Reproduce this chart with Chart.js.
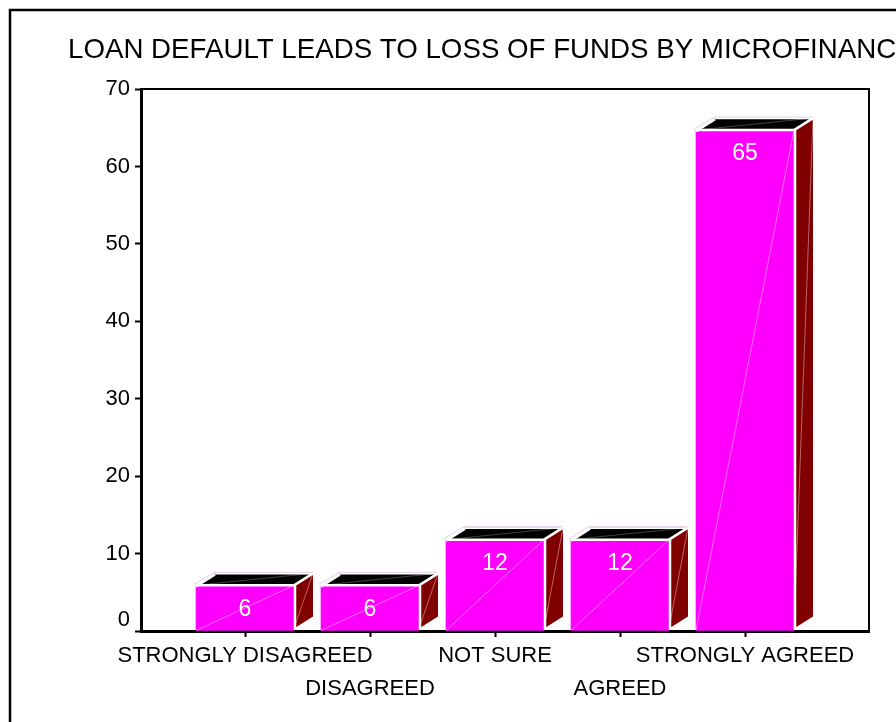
<!DOCTYPE html>
<html><head><meta charset="utf-8">
<script src="https://cdn.jsdelivr.net/npm/chart.js@4"></script>
<style>html,body{margin:0;padding:0;background:#fff;overflow:hidden}canvas{display:block}</style>
</head><body><canvas id="c" width="896" height="722"></canvas>
<script>
const titleText = 'LOAN DEFAULT LEADS TO LOSS OF FUNDS BY MICROFINANCE';
const categories = ['STRONGLY DISAGREED','DISAGREED','NOT SURE','AGREED','STRONGLY AGREED'];
const categoryPositions = [1,2,3,4,5];
const values = [5.9,5.9,11.8,11.8,64.7];
const yTicks = [0,10,20,30,40,50,60,70];

const FONT = '"Liberation Sans", Arial, sans-serif';
const DX = 19, DY = -12;

function poly(ctx, pts, fill){
  ctx.beginPath();
  pts.forEach((p,i)=> i ? ctx.lineTo(p[0],p[1]) : ctx.moveTo(p[0],p[1]));
  ctx.closePath();
  ctx.fillStyle=fill;ctx.fill();
}
function hair(ctx,a,b,c,w){
  ctx.beginPath();ctx.moveTo(a[0],a[1]);ctx.lineTo(b[0],b[1]);
  ctx.strokeStyle=c;ctx.lineWidth=w||1;ctx.stroke();
}

const frame = {
  id:'frame',
  afterLayout(chart){ chart.titleBlock.right = chart.titleBlock.left + 3000; },
  beforeDraw(chart){
    const ctx=chart.ctx;
    ctx.save();
    ctx.strokeStyle='#000';ctx.lineWidth=2.5;
    ctx.beginPath();ctx.moveTo(10,chart.height+5);ctx.lineTo(10,10);ctx.lineTo(chart.width+5,10);ctx.stroke();
    const a=chart.chartArea;
    ctx.lineWidth=2;
    ctx.beginPath();ctx.moveTo(a.left,a.top);ctx.lineTo(a.right,a.top);ctx.lineTo(a.right,a.bottom);ctx.stroke();
    ctx.restore();
  }
};
const bars3d = {
  id:'bars3d',
  afterDatasetsDraw(chart){
    const ctx=chart.ctx, meta=chart.getDatasetMeta(0);
    ctx.save();
    meta.data.forEach((bar,i)=>{
      const hw=bar.width/2, l=bar.x-hw, r=bar.x+hw, t=bar.y, b=bar.base;
      poly(ctx,[[r,t],[r+DX,t+DY],[r+DX,b+DY-2],[r,b-2]],'#800000');
      hair(ctx,[r,b-2],[r+DX,t+DY],'rgba(255,220,220,0.45)',1);
      poly(ctx,[[l,t],[l+DX,t+DY],[r+DX,t+DY],[r,t]],'#000');
      hair(ctx,[l,t],[r+DX,t+DY],'rgba(255,255,255,0.25)',1);
      hair(ctx,[r,t],[r+DX,t+DY],'#fff',2.5);
      hair(ctx,[l,t+1],[l+DX,t+DY+1],'#fff',2.5);
      hair(ctx,[l+DX,t+DY+0.5],[r+DX,t+DY+0.5],'#fff',1.5);
      hair(ctx,[l,t],[r+2,t],'#fff',2.5);
      hair(ctx,[r+1,t],[r+1,b-1],'#fff',2.5);
      ctx.beginPath();ctx.moveTo(l-2,t-1);ctx.lineTo(l+DX-1,t+DY-1);ctx.lineTo(r+DX,t+DY-1);
      ctx.strokeStyle='#e6cfe6';ctx.lineWidth=1;ctx.stroke();
      hair(ctx,[l,b],[r,t],'rgba(255,190,255,0.8)',0.7);
      ctx.fillStyle='#fff';ctx.font='23px '+FONT;ctx.textAlign='center';ctx.textBaseline='middle';
      ctx.fillText(String(Math.round(values[i])),bar.x,t+24);
    });
    ctx.restore();
  }
};

new Chart(document.getElementById('c'),{
  type:'bar',
  data:{datasets:[{
    data:values.map((v,i)=>({x:categoryPositions[i],y:v})),
    backgroundColor:'#ff00ff',borderWidth:0,barThickness:98
  }]},
  options:{
    responsive:false,animation:false,
    layout:{padding:{left:68,right:27,top:0,bottom:0}},
    plugins:{
      legend:{display:false},tooltip:{enabled:false},
      title:{display:true,text:titleText,align:'start',color:'#000',
        font:{family:FONT,size:27.7,weight:'normal',lineHeight:1.2},
        padding:{top:33.4,bottom:22.4}}
    },
    scales:{
      x:{type:'linear',min:0.168,max:5.992,z:1,offset:false,
        afterBuildTicks(s){s.ticks=categoryPositions.map(v=>({value:v}));},
        afterFit(s){s.height=91;},
        grid:{offset:false,drawOnChartArea:false,drawTicks:true,tickLength:6,tickWidth:2,tickColor:'#000'},
        border:{display:true,color:'#000',width:3},
        ticks:{autoSkip:false,maxRotation:0,minRotation:0,color:'#000',padding:2,
          font:{family:FONT,size:22,lineHeight:1.5},
          callback(v){const i=categoryPositions.indexOf(v);if(i<0)return '';return i%2?['',categories[i]]:categories[i];}}
      },
      y:{min:0,max:70,z:1,
        afterBuildTicks(s){s.ticks=yTicks.map(v=>({value:v}));},
        afterFit(s){s.width=73;},
        grid:{drawOnChartArea:false,drawTicks:true,tickLength:6,tickWidth:2,tickColor:'#000'},
        border:{display:true,color:'#000',width:3},
        ticks:{color:'#000',padding:5,
          font:{family:FONT,size:22,lineHeight:1},
          callback(v){return v===0?['0','']:String(v);}}
      }
    }
  },
  plugins:[frame,bars3d]
});
</script></body></html>
